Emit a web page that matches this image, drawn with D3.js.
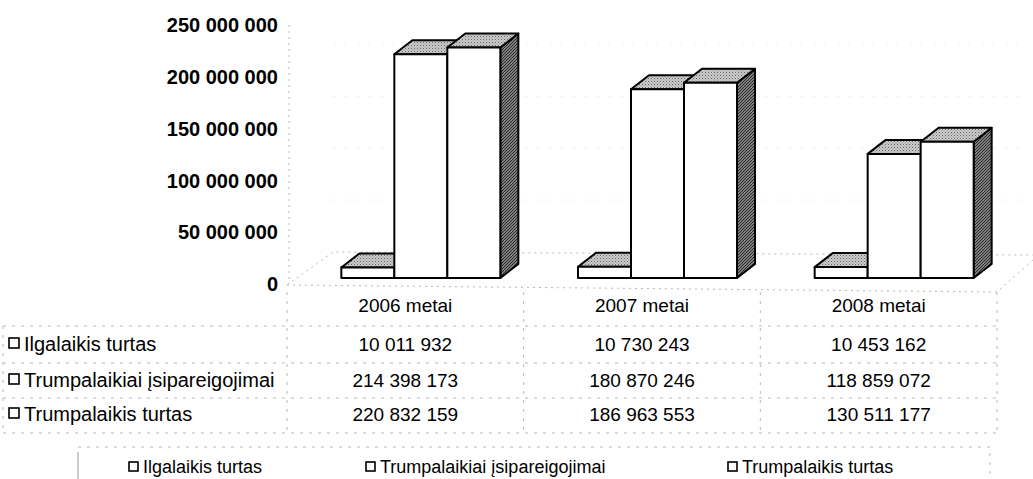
<!DOCTYPE html>
<html><head><meta charset="utf-8">
<script src="https://cdn.jsdelivr.net/npm/d3@7"></script>
<style>html,body{margin:0;padding:0;background:#fff}svg{display:block}</style>
</head><body><svg id="c" width="1033" height="479"></svg>
<script>
const categories = ["2006 metai", "2007 metai", "2008 metai"];
const seriesNames = ["Ilgalaikis turtas", "Trumpalaikiai įsipareigojimai", "Trumpalaikis turtas"];
const ilgalaikis = [10011932, 10730243, 10453162];
const trumpIsip = [214398173, 180870246, 118859072];
const trumpTurtas = [220832159, 186963553, 130511177];
const yTicks = [0, 50000000, 100000000, 150000000, 200000000, 250000000];
const seriesValues = [ilgalaikis, trumpIsip, trumpTurtas];

const svg = d3.select("#c");
const font = "'Liberation Sans', Arial, sans-serif";
const fmt = v => d3.format(",")(v).replace(/,/g, " ");

// depth offset of 3D bars
const DX = 18, DY = -14;
const x = d3.scaleBand().domain(categories).range([287, 997]);
const yBar = d3.scaleLinear().domain([0, 250000000]).range([278, 17]);
const yLab = d3.scaleLinear().domain([0, 250000000]).range([284, 25]);
const yBack = d3.scaleLinear().domain([0, 250000000]).range([252, -7]);

const defs = svg.append("defs");
const p1 = defs.append("pattern").attr("id","dots").attr("width",3).attr("height",3).attr("patternUnits","userSpaceOnUse");
p1.append("rect").attr("width",3).attr("height",3).attr("fill","#cbcbcb");
p1.append("rect").attr("width",1).attr("height",1).attr("fill","#666");
p1.append("rect").attr("x",1.5).attr("y",1.5).attr("width",1).attr("height",1).attr("fill","#888");
const p2 = defs.append("pattern").attr("id","hatch").attr("width",3).attr("height",3).attr("patternUnits","userSpaceOnUse");
p2.append("rect").attr("width",3).attr("height",3).attr("fill","#7d7d7d");
p2.append("path").attr("d","M0,3 L3,0").attr("stroke","#2a2a2a").attr("stroke-width",1);

const faint = "#b8b8b8";
// back wall gridlines
svg.append("g").selectAll("line").data(yTicks.slice(1)).join("line")
  .attr("x1", 333).attr("x2", 1020).attr("y1", d => yBack(d)).attr("y2", d => yBack(d))
  .attr("stroke", "#ececec").attr("stroke-dasharray", "2,10");
// left wall
svg.append("line").attr("x1",289).attr("x2",289).attr("y1",yLab(250000000)).attr("y2",yLab(0))
  .attr("stroke",faint).attr("stroke-dasharray","2,4");
// floor
svg.append("path").attr("d","M287,285 L333,252 L1033,255 M287,285 L997,292 L1033,260")
  .attr("fill","none").attr("stroke",faint).attr("stroke-dasharray","2,4");

// Y axis labels
svg.append("g").selectAll("text").data(yTicks).join("text")
  .attr("x", 278).attr("y", d => yLab(d)).attr("dy", "0.36em")
  .attr("text-anchor", "end").attr("font-family", font).attr("font-weight", "bold")
  .attr("font-size", 20).attr("fill", "#000").text(d => fmt(d));

// bars
const barW = 53;
const bars = svg.append("g");
categories.forEach((cat, ci) => {
  const gx = x(cat) + x.bandwidth() / 2 - 64;
  seriesValues.forEach((vals, si) => {
    const x0 = gx + si * barW, x1 = x0 + barW;
    const yb = yBar(0), yt = yBar(vals[ci]);
    const g = bars.append("g").attr("stroke", "#000").attr("stroke-width", 2).attr("stroke-linejoin","round");
    g.append("path").attr("d", `M${x1},${yt} L${x1+DX},${yt+DY} L${x1+DX},${yb+DY} L${x1},${yb} Z`).attr("fill", "url(#hatch)");
    g.append("path").attr("d", `M${x0},${yt} L${x0+DX},${yt+DY} L${x1+DX},${yt+DY} L${x1},${yt} Z`).attr("fill", "url(#dots)");
    g.append("rect").attr("x", x0).attr("y", yt).attr("width", barW).attr("height", yb - yt).attr("fill", "#fff");
  });
});

// data table
const tbl = svg.append("g").attr("font-family", font).attr("font-size", 19).attr("fill", "#000");
tbl.selectAll("text.cat").data(categories).join("text").attr("class","cat")
  .attr("x", d => x(d) + x.bandwidth() / 2).attr("y", 312).attr("text-anchor", "middle").text(d => d);
const rowY = [351, 387, 421];
seriesNames.forEach((name, si) => {
  tbl.append("rect").attr("x", 9).attr("y", rowY[si] - 13).attr("width", 10).attr("height", 10)
    .attr("fill", "#fff").attr("stroke", "#000").attr("stroke-width", 1.6);
  tbl.append("text").attr("x", 24).attr("y", rowY[si]).attr("font-size", 20).text(name);
  categories.forEach((cat, ci) => {
    tbl.append("text").attr("x", x(cat) + x.bandwidth() / 2).attr("y", rowY[si])
      .attr("text-anchor", "middle").text(fmt(seriesValues[si][ci]));
  });
});
const grid = svg.append("g").attr("stroke", faint).attr("stroke-dasharray", "3,6").attr("fill","none");
[326, 363, 398, 433].forEach(y => grid.append("line").attr("x1", 3).attr("x2", 997).attr("y1", y).attr("y2", y));
[287, x(categories[1]), x(categories[2]), 997].forEach(xx => grid.append("line").attr("x1", xx).attr("x2", xx).attr("y1", 292).attr("y2", 433));
grid.append("line").attr("x1", 3).attr("x2", 3).attr("y1", 326).attr("y2", 433);

// legend
const legX = [129, 366, 728];
const leg = svg.append("g").attr("font-family", font).attr("font-size", 18);
seriesNames.forEach((name, si) => {
  leg.append("rect").attr("x", legX[si]).attr("y", 462).attr("width", 9).attr("height", 9)
    .attr("fill", "#fff").attr("stroke", "#000").attr("stroke-width", 1.6);
  leg.append("text").attr("x", legX[si] + 14).attr("y", 473).text(name);
});
svg.append("path").attr("d","M78,447 L990,447 L990,479").attr("fill","none")
  .attr("stroke", faint).attr("stroke-dasharray","3,6");
svg.append("line").attr("x1",78).attr("x2",78).attr("y1",452).attr("y2",479).attr("stroke","#999");
</script></body></html>
